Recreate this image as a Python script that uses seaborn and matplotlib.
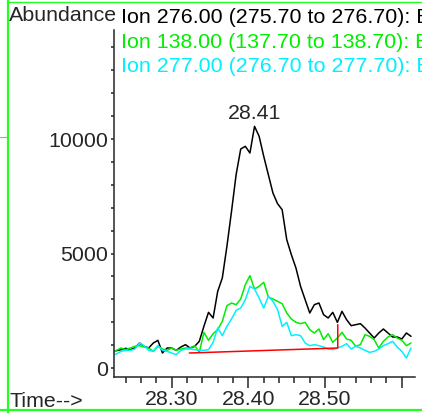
import numpy as np
import pandas as pd
import matplotlib
matplotlib.use('Agg')
import matplotlib.pyplot as plt
import seaborn as sns
from matplotlib.lines import Line2D
from matplotlib.ticker import MultipleLocator, FixedLocator

# Scan times (min), shared by the three ion traces
times = [28.222, 28.228, 28.234, 28.240, 28.246, 28.252, 28.258, 28.264, 28.270, 28.276,
         28.282, 28.288, 28.294, 28.300, 28.306, 28.312, 28.318, 28.324, 28.330, 28.336,
         28.342, 28.348, 28.354, 28.360, 28.366, 28.372, 28.378, 28.384, 28.390, 28.396,
         28.402, 28.408, 28.414, 28.420, 28.426, 28.432, 28.438, 28.444, 28.450, 28.456,
         28.462, 28.468, 28.474, 28.480, 28.486, 28.492, 28.498, 28.504, 28.510, 28.516,
         28.522, 28.528, 28.534, 28.540, 28.546, 28.552, 28.558, 28.564, 28.570, 28.576,
         28.582, 28.588, 28.594, 28.600, 28.606, 28.612]

# Ion 276.00
ion276 = [728, 757, 800, 860, 800, 873, 1090, 946, 873, 1090,
          1208, 655, 873, 873, 771, 917, 1019, 873, 946, 1165,
          1820, 2431, 2183, 3348, 3930, 5313, 6841, 8442, 9563, 9680,
          9389, 10553, 10116, 9243, 8442, 7642, 7176, 6914, 5604, 4949,
          4367, 3566, 2984, 2402, 2766, 2838, 2329, 2183, 2431, 1994,
          2475, 2111, 1849, 1892, 1936, 1747, 1528, 1310, 1528, 1703,
          1528, 1354, 1354, 1266, 1528, 1383]

# Ion 138.00
ion138 = [655, 771, 873, 800, 873, 946, 975, 917, 873, 728,
          946, 830, 771, 873, 771, 830, 873, 873, 975, 684,
          1557, 1208, 1499, 1674, 2038, 2722, 2838, 2766, 3013, 3639,
          4032, 3450, 3566, 3741, 3100, 3013, 2911, 2809, 2402, 2140,
          1994, 1936, 1994, 1674, 1528, 1703, 1237, 1499, 1121, 1310,
          1557, 1266, 1208, 946, 1019, 1456, 1383, 1237, 873, 1165,
          1354, 1456, 1310, 1208, 975, 1092]

# Ion 277.00
ion277 = [582, 611, 728, 771, 771, 830, 1092, 975, 771, 728,
          975, 771, 728, 655, 582, 771, 830, 830, 800, 771,
          771, 800, 1121, 1747, 1412, 1820, 2140, 2518, 2620, 2984,
          3566, 3450, 3057, 2620, 3130, 2911, 2547, 1820, 1994, 1412,
          1456, 1412, 1092, 975, 1019, 975, 917, 830, 800, 873,
          946, 1063, 830, 946, 873, 771, 684, 728, 830, 975,
          1063, 1165, 917, 728, 437, 873]

# integration baseline of the 28.41 peak
base_t = [28.323, 28.5165, 28.5165]
base_v = [655, 873, 1892]

ion_labels = ['Ion 276.00 (275.70 to 276.70): E',
              'Ion 138.00 (137.70 to 138.70): E',
              'Ion 277.00 (276.70 to 277.70): E']
ion_colors = ['black', '#00ee00', '#00f0ff']

sns.set_style('ticks')
plt.rcParams['font.family'] = ['Liberation Sans', 'DejaVu Sans']

W, H = 422, 413
FS = 15.4
fig = plt.figure(figsize=(W / 100, H / 100), dpi=100)
ax = fig.add_axes([114 / W, 1 - 376.5 / H, (415 - 114) / W, (376.5 - 30) / H])

for vals, col in zip([ion276, ion138, ion277], ion_colors):
    sns.lineplot(x=times, y=vals, color=col, lw=1.1, ax=ax)
sns.lineplot(x=base_t, y=base_v, color='red', lw=1.1, sort=False, estimator=None, ax=ax)

# peak label
ipk = int(np.argmax(ion276))
ax.annotate('28.41', (times[ipk], ion276[ipk]), xytext=(0, 5), textcoords='offset points',
            ha='center', va='baseline', fontsize=FS)

ax.set_xlim(28.2248, 28.6172)
ax.set_ylim(-371, 14760)
ax.set_xlabel('')
ax.set_ylabel('')

ax.xaxis.set_major_locator(FixedLocator([28.30, 28.40, 28.50, 28.60]))
ax.set_xticklabels(['28.30', '28.40', '28.50', ''])
ax.xaxis.set_minor_locator(MultipleLocator(0.02))
ax.yaxis.set_major_locator(FixedLocator([0, 5000, 10000]))
ax.yaxis.set_minor_locator(MultipleLocator(1000))

ax.tick_params(axis='x', which='major', length=8, width=1.1, pad=2, labelsize=FS)
ax.tick_params(axis='x', which='minor', length=4, width=1.1)
ax.tick_params(axis='y', which='both', length=2.5, width=1.1, pad=1.5, labelsize=FS)
sns.despine(ax=ax)
for s in ['left', 'bottom']:
    ax.spines[s].set_linewidth(1.1)

# header texts
fig.text(9 / W, 1 - 20.7 / H, 'Abundance', fontsize=FS, va='baseline')
for k, (lab, col) in enumerate(zip(ion_labels, ion_colors)):
    fig.text(121 / W, 1 - (23.3 + 24.2 * k) / H, lab, color=col, fontsize=FS, va='baseline')
fig.text(10 / W, 1 - 407 / H, 'Time-->', fontsize=FS, va='baseline')

# green window frame
g = '#22ff22'
fig.add_artist(Line2D([7.5 / W, 7.5 / W], [0, 1], color=g, lw=1.6, transform=fig.transFigure))
fig.add_artist(Line2D([0, 1], [1 - 410 / H, 1 - 410 / H], color=g, lw=1.6, transform=fig.transFigure))
fig.add_artist(Line2D([7.5 / W, 1], [1 - 1.5 / H, 1 - 1.5 / H], color=g, lw=1.0, transform=fig.transFigure))
fig.add_artist(Line2D([0, 7.5 / W], [1 - 137 / H, 1 - 137 / H], color=g, lw=0.8, transform=fig.transFigure))

fig.savefig('out.png', dpi=100)
